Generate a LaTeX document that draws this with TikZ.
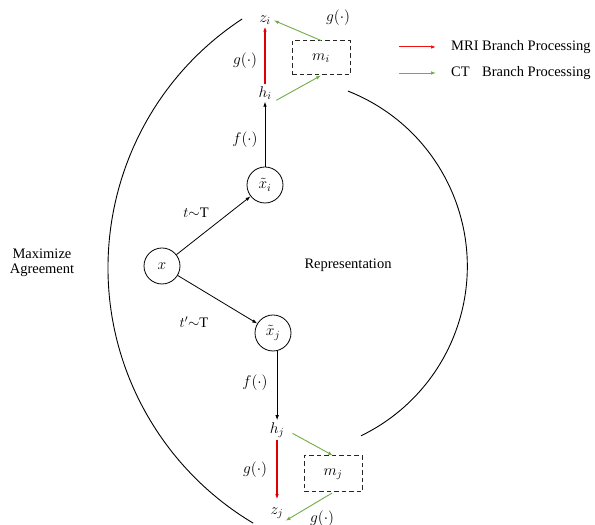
\documentclass[tikz,border=0pt]{standalone}
\usepackage{fix-cm}
\usepackage{fontspec}
\setmainfont{Liberation Serif}
\usetikzlibrary{arrows.meta}
\definecolor{mrired}{HTML}{E00000}
\definecolor{legred}{HTML}{F01010}
\definecolor{ctgreen}{HTML}{70AD47}
\begin{document}
\begin{tikzpicture}[x=1pt,y=1pt,
  every node/.style={font=\fontsize{14.5}{17}\selectfont},
  var/.style={inner sep=2pt,font=\fontsize{15.5}{18}\selectfont},
  lbl/.style={inner sep=1pt},
  mlbl/.style={inner sep=1pt,font=\fontsize{15.5}{18}\selectfont},
  circ/.style={draw,circle,minimum size=36pt,inner sep=0pt,line width=0.8pt,font=\fontsize{15.5}{18}\selectfont},
  mbox/.style={draw=black!85,dash pattern=on 4.5pt off 3pt,minimum width=58pt,minimum height=34pt,line width=1pt,font=\fontsize{15.5}{18}\selectfont},
  arr/.style={-{Latex[length=5pt,width=3.6pt]},line width=0.8pt},
  redarr/.style={arr,color=mrired,line width=1.25pt},
  greenarr/.style={arr,color=ctgreen,line width=0.9pt},
  arcline/.style={line width=0.9pt}
]
\useasboundingbox (0,0) rectangle (595,525);

% main nodes
\node[var] (zi) at (265,505) {$z_i$};
\node[mbox] (mi) at (321,467) {$m_i$};
\node[var] (hi) at (265,432) {$h_i$};
\node[circ] (xti) at (265,340) {$\tilde{x}_i$};
\node[circ] (x) at (162,259) {$x$};
\node[circ] (xtj) at (273,192) {$\tilde{x}_j$};
\node[var] (hj) at (277,95) {$h_j$};
\node[var] (zj) at (277,12) {$z_j$};
\node[mbox,minimum height=36pt] (mj) at (333,51) {$m_j$};

% labels
\node[mlbl] (g1) at (338,507) {$g(\cdot)$};
\node[mlbl] (g2) at (245,464) {$g(\cdot)$};
\node[mlbl] (f1) at (245,385) {$f(\cdot)$};
\node[lbl] (t1) at (196,312) {$t{\sim}\mathrm{T}$};
\node[lbl] (t2) at (194,203) {$t'{\sim}\mathrm{T}$};
\node[mlbl] (f2) at (255,142) {$f(\cdot)$};
\node[mlbl] (g3) at (255,55) {$g(\cdot)$};
\node[mlbl] (g4) at (322,6) {$g(\cdot)$};
\node[lbl,align=center] (ma) at (42,262) {Maximize\\[-2pt]Agreement};
\node[lbl] (rep) at (348,260) {Representation};

% arcs
\draw[arcline] (405.5,257.4) ++(123.3:297.5) arc[start angle=123.3,end angle=239.2,radius=297.5];
\draw[arcline] (279,258.7) ++(68.5:188.3) arc[start angle=68.5,end angle=-64.2,radius=188.3];

% black arrows
\draw[arr] (x) -- (xti);
\draw[arr] (x) -- (xtj);
\draw[arr] (xti.north) -- (hi.south);
\draw[arr] (xtj.-77) -- (xtj.-77 |- hj.north);

% red arrows
\draw[redarr] (hi.north) -- (zi.south);
\draw[redarr,shorten >=6pt] (hj.south) -- (zj.north);

% green arrows
\draw[greenarr,shorten <=3pt] (hi.south east) -- (mi.south);
\draw[greenarr,shorten >=1pt] (mi.north) -- (zi.east);
\draw[greenarr,shorten <=7pt] (hj.east) -- (mj.north);
\draw[greenarr,shorten <=1pt] (mj.south) -- (zj.south east);

% legend
\coordinate (lr1) at (399,478);
\coordinate (lr2) at (436,478);
\coordinate (lg1) at (399,452);
\coordinate (lg2) at (436,452);
\draw[redarr,color=legred,line width=1pt] (lr1) -- (lr2);
\draw[greenarr] (lg1) -- (lg2);
\node[lbl,anchor=west] (legr) at (450,478) {MRI Branch Processing};
\node[lbl,anchor=west] (legg) at (450,452) {\rlap{CT}\phantom{MRI }Branch Processing};
\end{tikzpicture}
\end{document}
